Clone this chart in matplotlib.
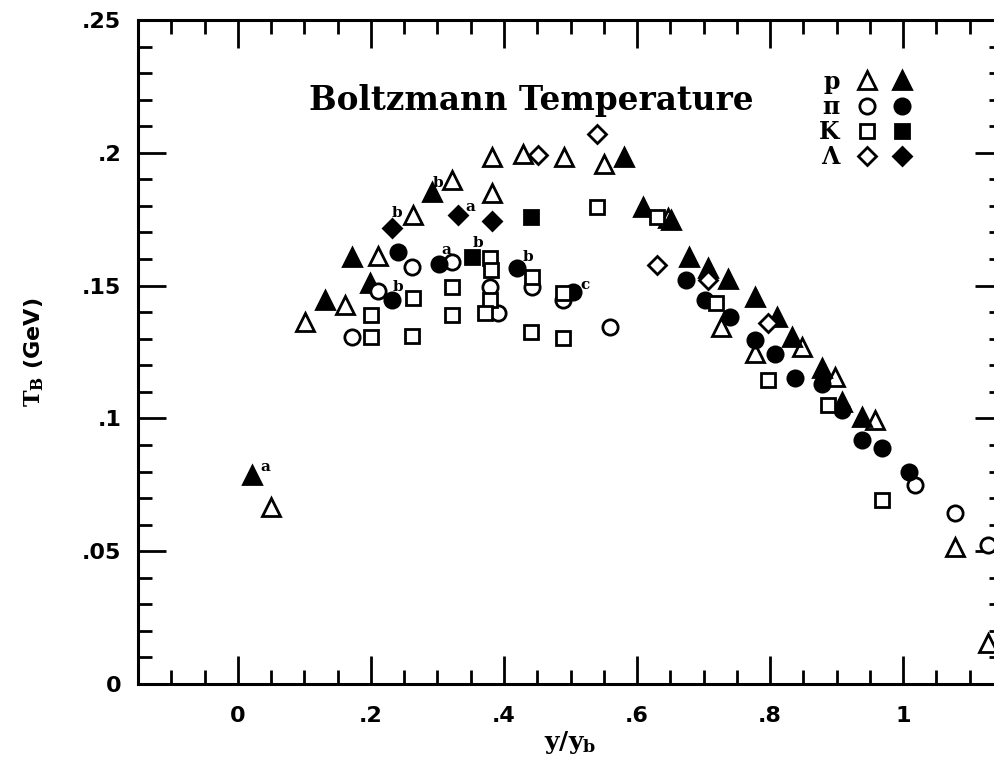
import matplotlib
matplotlib.use("Agg")
import matplotlib.pyplot as plt
from matplotlib.legend_handler import HandlerTuple
from matplotlib.ticker import FixedLocator, MultipleLocator, FuncFormatter

# proton (open / filled triangles)
p_open_x = [0.050, 0.101, 0.161, 0.211, 0.263, 0.322, 0.382, 0.382, 0.429, 0.490,
            0.550, 0.647, 0.726, 0.777, 0.848, 0.898, 0.958, 1.078, 1.128]
p_open_y = [0.0666, 0.1363, 0.1427, 0.1611, 0.1766, 0.1898, 0.1984, 0.1849, 0.1995, 0.1984,
            0.1958, 0.1755, 0.1344, 0.1246, 0.1269, 0.1156, 0.0994, 0.0516, 0.0154]
p_fill_x = [0.021, 0.131, 0.171, 0.198, 0.292, 0.580, 0.609, 0.651, 0.678, 0.707,
            0.737, 0.777, 0.811, 0.833, 0.878, 0.908, 0.938]
p_fill_y = [0.0787, 0.1446, 0.1608, 0.1510, 0.1852, 0.1984, 0.1796, 0.1747, 0.1608, 0.1566,
            0.1525, 0.1457, 0.1382, 0.1306, 0.1190, 0.1062, 0.1005]

# pion (open / filled circles)
pi_open_x = [0.171, 0.211, 0.262, 0.322, 0.379, 0.391, 0.442, 0.489, 0.559, 1.018, 1.078, 1.128]
pi_open_y = [0.1307, 0.1480, 0.1570, 0.1589, 0.1495, 0.1397, 0.1495, 0.1446, 0.1344, 0.0749, 0.0644, 0.0523]
pi_fill_x = [0.241, 0.232, 0.302, 0.420, 0.504, 0.674, 0.702, 0.740, 0.777, 0.808,
             0.838, 0.878, 0.908, 0.938, 0.968, 1.008]
pi_fill_y = [0.1627, 0.1446, 0.1580, 0.1566, 0.1476, 0.1521, 0.1446, 0.1382, 0.1295, 0.1242,
             0.1152, 0.1130, 0.1032, 0.0919, 0.0889, 0.0798]

# kaon (open / filled squares)
k_open_x = [0.200, 0.200, 0.262, 0.263, 0.322, 0.322, 0.379, 0.380, 0.379, 0.371,
            0.442, 0.441, 0.489, 0.489, 0.540, 0.630, 0.719, 0.797, 0.887, 0.968]
k_open_y = [0.1389, 0.1307, 0.1310, 0.1453, 0.1495, 0.1389, 0.1604, 0.1559, 0.1446, 0.1397,
            0.1532, 0.1325, 0.1303, 0.1472, 0.1796, 0.1758, 0.1434, 0.1145, 0.1050, 0.0693]
k_fill_x = [0.352, 0.441]
k_fill_y = [0.1608, 0.1758]

# lambda (open / filled diamonds)
l_open_x = [0.540, 0.451, 0.630, 0.707, 0.797]
l_open_y = [0.2071, 0.1992, 0.1578, 0.1521, 0.1359]
l_fill_x = [0.232, 0.331, 0.382]
l_fill_y = [0.1717, 0.1766, 0.1743]

# small letter tags next to some points
tag_text = ["a", "b", "b", "b", "a", "a", "b", "b", "c"]
tag_x = [0.041, 0.241, 0.239, 0.301, 0.349, 0.314, 0.361, 0.436, 0.522]
tag_y = [0.0817, 0.1495, 0.1773, 0.1886, 0.1796, 0.1634, 0.1660, 0.1608, 0.1502]

x_ticks = [0, 0.2, 0.4, 0.6, 0.8, 1.0]
x_tick_labels = ["0", ".2", ".4", ".6", ".8", "1"]
y_ticks = [0, 0.05, 0.1, 0.15, 0.2, 0.25]
y_tick_labels = ["0", ".05", ".1", ".15", ".2", ".25"]

fig = plt.figure(figsize=(9.95, 7.6), dpi=100)
ax = fig.add_axes([138 / 995, 76 / 760, 865 / 995, 664 / 760])

mk = dict(linestyle="none", color="black", markeredgewidth=2.0)
h_p_o, = ax.plot(p_open_x, p_open_y, marker="^", markersize=13, markerfacecolor="white", **mk)
h_p_f, = ax.plot(p_fill_x, p_fill_y, marker="^", markersize=13, markerfacecolor="black", **mk)
h_pi_o, = ax.plot(pi_open_x, pi_open_y, marker="o", markersize=11, markerfacecolor="white", **mk)
h_pi_f, = ax.plot(pi_fill_x, pi_fill_y, marker="o", markersize=11, markerfacecolor="black", **mk)
h_k_o, = ax.plot(k_open_x, k_open_y, marker="s", markersize=10, markerfacecolor="white", **mk)
h_k_f, = ax.plot(k_fill_x, k_fill_y, marker="s", markersize=10, markerfacecolor="black", **mk)
h_l_o, = ax.plot(l_open_x, l_open_y, marker="D", markersize=9, markerfacecolor="white", **mk)
h_l_f, = ax.plot(l_fill_x, l_fill_y, marker="D", markersize=9, markerfacecolor="black", **mk)

for t, x, y in zip(tag_text, tag_x, tag_y):
    ax.text(x, y, t, fontsize=11, fontweight="bold", family="DejaVu Serif",
            ha="center", va="center")

ax.set_xlim(-0.15, 1.15)
ax.set_ylim(0, 0.25)

ax.xaxis.set_major_locator(FixedLocator(x_ticks))
ax.xaxis.set_major_formatter(FuncFormatter(lambda v, pos: x_tick_labels[pos] if pos is not None and pos < len(x_tick_labels) else ""))
ax.xaxis.set_minor_locator(MultipleLocator(0.05))
ax.yaxis.set_major_locator(FixedLocator(y_ticks))
ax.yaxis.set_major_formatter(FuncFormatter(lambda v, pos: y_tick_labels[pos] if pos is not None and pos < len(y_tick_labels) else ""))
ax.yaxis.set_minor_locator(MultipleLocator(0.01))

ax.tick_params(which="both", direction="in", top=True, right=True, width=2, color="black")
ax.tick_params(which="major", length=20)
ax.tick_params(which="minor", length=10)
ax.tick_params(axis="x", which="major", pad=16)
ax.tick_params(axis="y", which="major", pad=12)
for lbl in ax.get_xticklabels() + ax.get_yticklabels():
    lbl.set_fontfamily("DejaVu Sans")
    lbl.set_fontweight("bold")
    lbl.set_fontsize(16)

for sp in ax.spines.values():
    sp.set_linewidth(2.2)

ax.set_xlabel(r"$\mathbf{y/y_b}$", fontsize=18, labelpad=2, math_fontfamily="dejavuserif")
ax.set_ylabel(r"$\mathbf{T_B}$ (GeV)", fontsize=16, fontweight="bold", labelpad=26,
              math_fontfamily="dejavuserif")

ax.text(0.4543, 0.8795, "Boltzmann Temperature", transform=ax.transAxes,
        ha="center", va="center", fontsize=23.5, fontweight="bold", family="DejaVu Serif")

leg = ax.legend(
    handles=[(h_p_o, h_p_f), (h_pi_o, h_pi_f), (h_k_o, h_k_f), (h_l_o, h_l_f)],
    labels=["p", "π", "K", "Λ"],
    handler_map={tuple: HandlerTuple(ndivide=None, pad=0.4)},
    markerfirst=False, frameon=False, numpoints=1,
    loc="upper right", bbox_to_anchor=(0.912, 0.943),
    prop={"family": "DejaVu Serif", "size": 17, "weight": "bold"},
    labelspacing=0.05, handlelength=2.6, handletextpad=0.6, borderpad=0.0,
)

fig.savefig("out.png", dpi=100)
